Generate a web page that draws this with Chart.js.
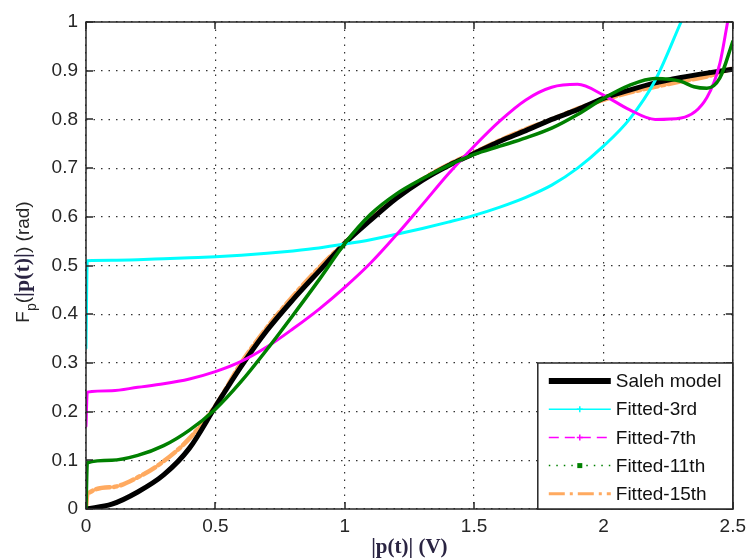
<!DOCTYPE html>
<html>
<head>
<meta charset="utf-8">
<title>AM/PM curve fitting</title>
<script src="https://cdn.jsdelivr.net/npm/chart.js@4.4.0/dist/chart.umd.min.js"></script>
<style>
  html, body { margin: 0; padding: 0; background: #fff; }
  #wrap { width: 752px; height: 560px; }
</style>
</head>
<body>
<div id="wrap"><canvas id="phaseChart" width="752" height="560"></canvas></div>
<script>
// |p(t)| samples (V) and phase values (rad) for each curve
const salehX = [0, 0.1, 0.2, 0.3, 0.4, 0.5, 0.6, 0.7, 0.8, 0.9, 1.0, 1.1, 1.2, 1.3, 1.4, 1.5, 1.6, 1.7, 1.8, 1.9, 2.0, 2.1, 2.2, 2.3, 2.4, 2.5];
const salehY = [0, 0.01, 0.035, 0.07, 0.125, 0.21, 0.293, 0.367, 0.43, 0.488, 0.545, 0.593, 0.638, 0.675, 0.705, 0.73, 0.755, 0.777, 0.8, 0.82, 0.843, 0.86, 0.875, 0.886, 0.895, 0.903];

const fit3X = [0, 0.005, 0.1, 0.2, 0.3, 0.4, 0.5, 0.6, 0.7, 0.8, 0.9, 1.0, 1.1, 1.2, 1.3, 1.4, 1.5, 1.6, 1.7, 1.8, 1.9, 2.0, 2.1, 2.2, 2.3];
const fit3Y = [0.33, 0.51, 0.511, 0.512, 0.514, 0.516, 0.518, 0.521, 0.525, 0.53, 0.536, 0.544, 0.553, 0.564, 0.576, 0.589, 0.603, 0.62, 0.64, 0.665, 0.7, 0.745, 0.8, 0.88, 1.0];

const fit7X = [0, 0.005, 0.1, 0.2, 0.3, 0.4, 0.5, 0.6, 0.7, 0.8, 0.9, 1.0, 1.1, 1.2, 1.3, 1.4, 1.5, 1.6, 1.7, 1.8, 1.9, 2.0, 2.1, 2.2, 2.3, 2.4, 2.45, 2.48];
const fit7Y = [0.17, 0.24, 0.243, 0.25, 0.257, 0.267, 0.282, 0.303, 0.333, 0.37, 0.41, 0.455, 0.505, 0.563, 0.625, 0.688, 0.745, 0.797, 0.84, 0.866, 0.872, 0.85, 0.82, 0.8, 0.803, 0.845, 0.915, 1.0];

const fit11X = [0, 0.005, 0.1, 0.2, 0.3, 0.4, 0.5, 0.6, 0.7, 0.8, 0.9, 1.0, 1.1, 1.2, 1.3, 1.4, 1.5, 1.6, 1.7, 1.8, 1.9, 2.0, 2.1, 2.2, 2.3, 2.35, 2.4, 2.45, 2.5];
const fit11Y = [0, 0.095, 0.1, 0.11, 0.13, 0.162, 0.205, 0.262, 0.328, 0.398, 0.47, 0.545, 0.605, 0.647, 0.678, 0.705, 0.728, 0.745, 0.762, 0.782, 0.81, 0.843, 0.87, 0.884, 0.878, 0.867, 0.864, 0.885, 0.96];

const fit15X = [0, 0.005, 0.1, 0.2, 0.3, 0.4, 0.5, 0.6, 0.7, 0.8, 0.9, 1.0, 1.1, 1.2, 1.3, 1.4, 1.5, 1.6, 1.7, 1.8, 1.9, 2.0, 2.1, 2.2, 2.3, 2.4, 2.5];
const fit15Y = [0, 0.03, 0.045, 0.065, 0.098, 0.145, 0.212, 0.3, 0.373, 0.437, 0.495, 0.547, 0.595, 0.64, 0.677, 0.707, 0.732, 0.757, 0.78, 0.8, 0.822, 0.84, 0.855, 0.867, 0.878, 0.888, 0.905];

const seriesNames = ["Saleh model", "Fitted-3rd", "Fitted-7th", "Fitted-11th", "Fitted-15th"];
const xTickLabels = ["0", "0.5", "1", "1.5", "2", "2.5"];
const yTickLabels = ["0", "0.1", "0.2", "0.3", "0.4", "0.5", "0.6", "0.7", "0.8", "0.9", "1"];

const INK = "#262626";
const TICK_FONT = { family: "'Liberation Sans', Arial, sans-serif", size: 19 };

function toPoints(xs, ys) {
    return xs.map((x, i) => ({ x: x, y: ys[i] }));
}

// inward ticks on all four sides plus the closed box, drawn over the curves
const axesBox = {
    id: "axesBox",
    afterDatasetsDraw(chart) {
        const { ctx, chartArea: a, scales } = chart;
        const len = 7;
        ctx.save();
        ctx.strokeStyle = INK;
        ctx.lineWidth = 1.5;
        ctx.setLineDash([]);
        ctx.beginPath();
        scales.x.ticks.forEach(t => {
            const px = Math.round(scales.x.getPixelForValue(t.value));
            ctx.moveTo(px, a.bottom); ctx.lineTo(px, a.bottom - len);
            ctx.moveTo(px, a.top); ctx.lineTo(px, a.top + len);
        });
        scales.y.ticks.forEach(t => {
            const py = Math.round(scales.y.getPixelForValue(t.value));
            ctx.moveTo(a.left, py); ctx.lineTo(a.left + len, py);
            ctx.moveTo(a.right, py); ctx.lineTo(a.right - len, py);
        });
        ctx.stroke();
        ctx.strokeRect(a.left, a.top, a.right - a.left, a.bottom - a.top);
        ctx.restore();
    }
};

function drawMarker(ctx, kind, x, y, color) {
    ctx.setLineDash([]);
    ctx.strokeStyle = color;
    ctx.fillStyle = color;
    ctx.lineWidth = 1.5;
    if (kind === "plus") {
        ctx.beginPath();
        ctx.moveTo(x - 3, y); ctx.lineTo(x + 3, y);
        ctx.moveTo(x, y - 3); ctx.lineTo(x, y + 3);
        ctx.stroke();
    } else if (kind === "square") {
        ctx.fillRect(x - 2.5, y - 2.5, 5, 5);
    }
}

// legend box sitting in the lower right corner of the axes
const cornerLegend = {
    id: "cornerLegend",
    afterDraw(chart) {
        const { ctx, chartArea: a } = chart;
        const w = 195, h = 146;
        const left = a.right - w, top = a.bottom - h;
        ctx.save();
        ctx.fillStyle = "#fff";
        ctx.fillRect(left, top, w, h);
        ctx.strokeStyle = INK;
        ctx.lineWidth = 1.5;
        ctx.strokeRect(left, top, w, h);

        ctx.font = "19px 'Liberation Sans', Arial, sans-serif";
        ctx.textBaseline = "middle";
        chart.data.datasets.forEach((ds, i) => {
            const y = top + 18 + i * 28.2;
            const x0 = left + 11, x1 = left + 73;
            ctx.strokeStyle = ds.borderColor;
            ctx.lineWidth = ds.legendWidth;
            ctx.setLineDash(ds.legendDash);
            ctx.beginPath();
            ctx.moveTo(x0, y);
            ctx.lineTo(x1, y);
            ctx.stroke();
            if (ds.legendMarker) drawMarker(ctx, ds.legendMarker, (x0 + x1) / 2, y, ds.borderColor);
            ctx.fillStyle = "#111";
            ctx.fillText(ds.label, left + 78, y + 1);
        });
        ctx.restore();
    }
};

// rotated y title with subscript and the bold |p(t)| part
const yTitle = {
    id: "yTitle",
    afterDraw(chart) {
        const { ctx } = chart;
        const sans = "'Liberation Sans', Arial, sans-serif";
        const parts = [
            { text: "F", font: "19px " + sans, color: INK, shift: 0 },
            { text: "p", font: "14px " + sans, color: INK, shift: 7 },
            { text: "(", font: "19px " + sans, color: INK, shift: 0 },
            { text: "|p(t)|", font: "bold 22px 'Liberation Serif', serif", color: "#2a2442", shift: 0 },
            { text: ")", font: "19px " + sans, color: INK, shift: 0 },
            { text: " (rad)", font: "19px " + sans, color: INK, shift: 0 }
        ];
        ctx.save();
        let total = 0;
        parts.forEach(p => { ctx.font = p.font; p.w = ctx.measureText(p.text).width; total += p.w; });
        ctx.translate(29, 262);
        ctx.rotate(-Math.PI / 2);
        ctx.textBaseline = "alphabetic";
        let x = -total / 2;
        parts.forEach(p => {
            ctx.font = p.font;
            ctx.fillStyle = p.color;
            ctx.fillText(p.text, x, p.shift);
            x += p.w;
        });
        ctx.restore();
    }
};

const ctx = document.getElementById("phaseChart").getContext("2d");
new Chart(ctx, {
    type: "line",
    data: {
        datasets: [
            {
                label: seriesNames[0],
                data: toPoints(salehX, salehY),
                borderColor: "#000000",
                borderWidth: 5,
                order: 4,
                legendWidth: 6, legendDash: [], legendMarker: null
            },
            {
                label: seriesNames[1],
                data: toPoints(fit3X, fit3Y),
                borderColor: "#00ffff",
                borderWidth: 3,
                order: 3,
                legendWidth: 1.5, legendDash: [], legendMarker: "plus"
            },
            {
                label: seriesNames[2],
                data: toPoints(fit7X, fit7Y),
                borderColor: "#ff00ff",
                borderWidth: 3,
                order: 2,
                legendWidth: 1.5, legendDash: [10, 6], legendMarker: "plus"
            },
            {
                label: seriesNames[3],
                data: toPoints(fit11X, fit11Y),
                borderColor: "#008000",
                borderWidth: 3.5,
                order: 1,
                legendWidth: 1.5, legendDash: [1.5, 6], legendMarker: "square"
            },
            {
                label: seriesNames[4],
                data: toPoints(fit15X, fit15Y),
                borderColor: "#ffaa60",
                borderWidth: 4.5,
                borderDash: [14, 4, 3, 4],
                order: 5,
                legendWidth: 3, legendDash: [16, 5, 3, 5], legendMarker: null
            }
        ]
    },
    options: {
        responsive: false,
        animation: false,
        layout: { padding: { top: 22, right: 15, left: 0, bottom: 0 } },
        elements: {
            point: { radius: 0 },
            line: { cubicInterpolationMode: "monotone", borderCapStyle: "round", borderJoinStyle: "round" }
        },
        scales: {
            x: {
                type: "linear",
                min: 0,
                max: 2.5,
                ticks: {
                    stepSize: 0.5,
                    padding: 6,
                    color: INK,
                    font: TICK_FONT,
                    maxRotation: 0,
                    callback: (v, i) => xTickLabels[i]
                },
                grid: { color: "#333", lineWidth: 1.2, drawTicks: false },
                border: { display: false, dash: [1.5, 6] },
                title: {
                    display: true,
                    text: "|p(t)| (V)",
                    color: "#2a2442",
                    font: { family: "'Liberation Serif', serif", size: 21, weight: "bold" },
                    padding: { top: 0, bottom: 0 }
                },
                afterFit(scale) { scale.height = 51; }
            },
            y: {
                min: 0,
                max: 1,
                ticks: {
                    stepSize: 0.1,
                    padding: 8,
                    color: INK,
                    font: TICK_FONT,
                    callback: (v, i) => yTickLabels[i]
                },
                grid: { color: "#333", lineWidth: 1.2, drawTicks: false },
                border: { display: false, dash: [1.5, 6] },
                afterFit(scale) { scale.width = 86; }
            }
        },
        plugins: {
            legend: { display: false },
            tooltip: { enabled: false }
        }
    },
    plugins: [axesBox, cornerLegend, yTitle]
});
</script>
</body>
</html>
